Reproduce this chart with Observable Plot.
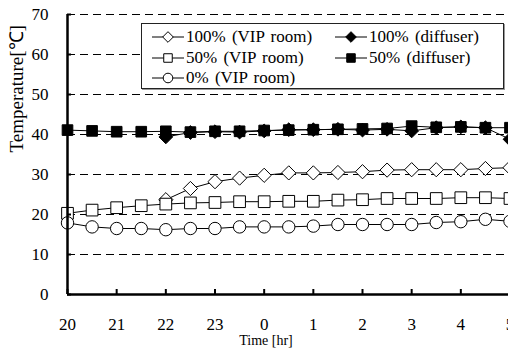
<!DOCTYPE html>
<html>
<head>
<meta charset="utf-8">
<script src="https://cdn.jsdelivr.net/npm/d3@7"></script>
<script src="https://cdn.jsdelivr.net/npm/@observablehq/plot@0.6"></script>
<style>
  html, body { margin: 0; padding: 0; background: #fff; overflow: hidden; }
  #chart { position: relative; width: 508px; height: 351px; font-family: "Liberation Serif", "Times New Roman", serif; }
  #chart svg text { font-family: "Liberation Serif", "Times New Roman", serif !important; }
  .legend { position: absolute; left: 141px; top: 23px; width: 361px; height: 64px; border: 1px solid #222; background: #fff; box-shadow: 1px 1px 0 #999; }
  .item { position: absolute; display: flex; align-items: center; height: 20px; font-family: "Liberation Serif", "Times New Roman", serif; font-size: 17px; white-space: nowrap; color: #000; word-spacing: 2px; }
  .item svg { display: block; margin-right: 2px; }
</style>
</head>
<body>
<div id="chart"></div>
<script>
// Clock time of each reading (half-hourly, 20:00 through 05:00 next day)
const clock = [20, 20.5, 21, 21.5, 22, 22.5, 23, 23.5, 0, 0.5, 1, 1.5, 2, 2.5, 3, 3.5, 4, 4.5, 5];

// Hour labels along the time axis
const hourLabels = ["20", "21", "22", "23", "0", "1", "2", "3", "4", "5"];

// Temperature axis ticks [°C]
const tempTicks = [0, 10, 20, 30, 40, 50, 60, 70];

// Measured temperatures [°C]; null = not measured
const vip100  = [null, null, null, null, 23.7, 26.5, 28.2, 29.1, 29.8, 30.4, 30.4, 30.5, 30.7, 31.1, 31.2, 31.2, 31.2, 31.5, 31.7];
const diff100 = [null, null, null, null, 39.4, 40.5, 40.7, 40.6, 40.9, 41.2, 41.2, 41.3, 41.1, 41.3, 40.9, 41.7, 41.9, 41.7, 38.8];
const vip50   = [20.3, 21.1, 21.7, 22.2, 22.6, 22.9, 23.0, 23.2, 23.2, 23.3, 23.3, 23.6, 23.7, 24.0, 24.0, 24.0, 24.2, 24.2, 24.0];
const diff50  = [41.1, 40.9, 40.7, 40.7, 40.8, 40.6, 40.8, 40.8, 41.0, 41.1, 41.2, 41.3, 41.4, 41.5, 42.1, 41.8, 41.9, 41.7, 41.7];
const vip0    = [17.9, 16.9, 16.5, 16.5, 16.2, 16.5, 16.5, 16.9, 16.9, 16.9, 17.1, 17.5, 17.5, 17.5, 17.5, 18.0, 18.2, 18.8, 18.3];

// Series names, in drawing / legend order
const seriesNames = ["100% (VIP room)", "100% (diffuser)", "50% (VIP room)", "50% (diffuser)", "0% (VIP room)"];
const seriesValues = [vip100, diff100, vip50, diff50, vip0];

// Marker style per series
const markerStyle = [
  {symbol: "diamond2", fill: "white", r: 6.4},
  {symbol: "diamond2", fill: "black", r: 6.2},
  {symbol: "square",   fill: "white", r: 6.6},
  {symbol: "square",   fill: "black", r: 6.0},
  {symbol: "circle",   fill: "white", r: 6.2}
];

const serif = "'Liberation Serif', 'Times New Roman', serif";

// hours elapsed since 20:00
const elapsed = h => (h >= 20 ? h - 20 : h + 4);

const series = seriesNames.map((name, i) => ({
  name,
  style: markerStyle[i],
  rows: clock
    .map((h, j) => ({t: elapsed(h), temp: seriesValues[i][j]}))
    .filter(d => d.temp != null)
}));

const hourPos = hourLabels.map(h => elapsed(+h));

const marks = [
  Plot.gridY(tempTicks.filter(v => v > 0), {stroke: "black", strokeOpacity: 1, strokeWidth: 1, strokeDasharray: "8,5"})
];
for (const s of series) {
  marks.push(Plot.line(s.rows, {x: "t", y: "temp", stroke: "black", strokeWidth: 1}));
  marks.push(Plot.dot(s.rows, {x: "t", y: "temp", symbol: () => s.style.symbol, r: s.style.r, fill: s.style.fill, stroke: "black", strokeWidth: 1}));
}
marks.push(
  Plot.ruleX([0], {stroke: "black", strokeWidth: 2.5}),
  Plot.ruleY([0], {stroke: "black", strokeWidth: 2.5}),
  // inward tick marks
  Plot.axisY(tempTicks, {tickSize: -4, strokeWidth: 2, tickFormat: () => "", label: null}),
  Plot.axisX(hourPos, {tickSize: -5, strokeWidth: 2, tickFormat: () => "", label: null}),
  // tick labels
  Plot.axisY(tempTicks, {tickSize: 0, tickPadding: 19, fontSize: 17, fontFamily: serif, label: null}),
  Plot.axisX(hourPos, {tickSize: 0, tickPadding: 23, fontSize: 17, fontFamily: serif, label: null, tickFormat: (d, i) => hourLabels[i]}),
  // axis titles
  Plot.text(["Temperature[℃]"], {text: d => d, frameAnchor: "left", rotate: -90, dx: -51, dy: -2, fontSize: 19, fontFamily: serif}),
  Plot.text(["Time [hr]"], {text: d => d, frameAnchor: "bottom", dx: -22, dy: 50, fontSize: 14, fontFamily: serif})
);

const chart = Plot.plot({
  width: 508,
  height: 351,
  marginLeft: 67,
  marginRight: 0,
  marginTop: 14,
  marginBottom: 57,
  style: {fontFamily: serif, fontSize: "17px", background: "white", color: "black", overflow: "hidden"},
  x: {domain: [0, 9], range: [67, 509.5], axis: null, label: null},
  y: {domain: [0, 70], axis: null, label: null},
  marks
});

const root = document.getElementById("chart");
root.appendChild(chart);

// legend box
const legend = document.createElement("div");
legend.className = "legend";
root.appendChild(legend);

const colLeft = [10, 193];
const rowTop = [3, 24, 44];
series.forEach((s, i) => {
  const item = document.createElement("div");
  item.className = "item";
  item.style.left = colLeft[i % 2] + "px";
  item.style.top = rowTop[Math.floor(i / 2)] + "px";
  const sw = d3.create("svg").attr("width", 32).attr("height", 16);
  sw.append("line").attr("x1", 0).attr("x2", 32).attr("y1", 8).attr("y2", 8).attr("stroke", "black").attr("stroke-width", 1);
  const symType = {diamond2: d3.symbolDiamond2, square: d3.symbolSquare, circle: d3.symbolCircle}[s.style.symbol];
  sw.append("path")
    .attr("transform", "translate(16,8)")
    .attr("d", d3.symbol(symType, Math.PI * 4.8 * 4.8)())
    .attr("fill", s.style.fill)
    .attr("stroke", "black")
    .attr("stroke-width", 1);
  item.appendChild(sw.node());
  const label = document.createElement("span");
  label.textContent = s.name;
  item.appendChild(label);
  legend.appendChild(item);
});
</script>
</body>
</html>
